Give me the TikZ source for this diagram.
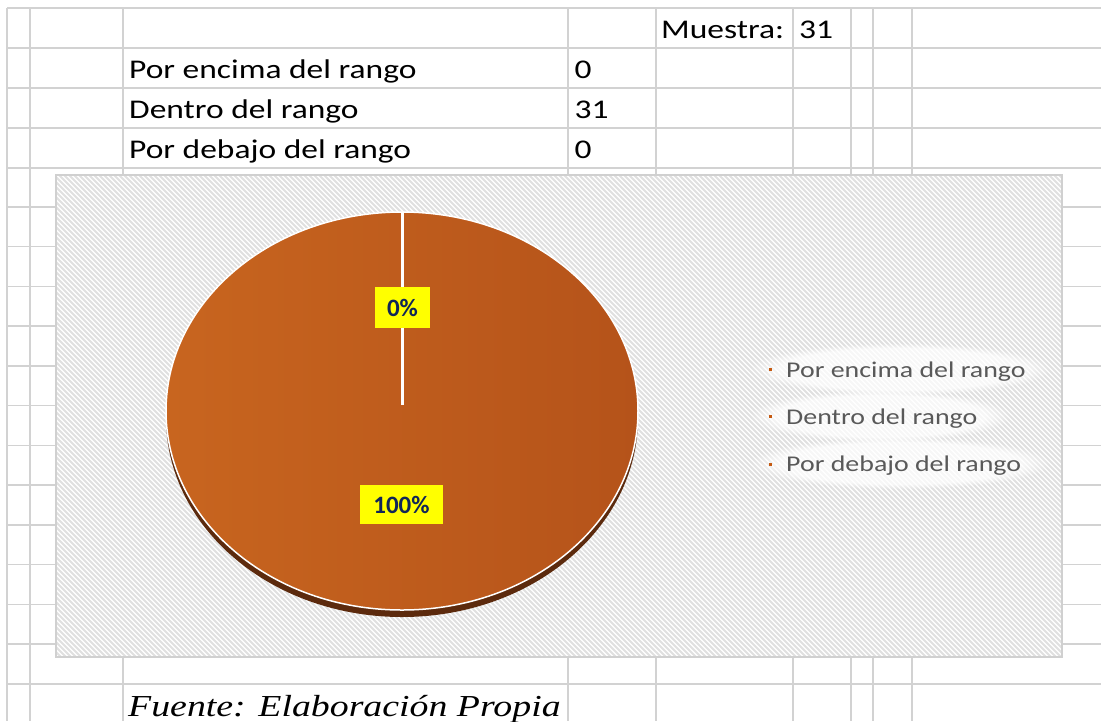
\documentclass[tikz,border=0pt]{standalone}
\usepackage{fontspec}
\setmainfont{Carlito}
\newfontfamily\tabfont{Carlito}[FakeStretch=1.24]
\newfontfamily\lblfont{Carlito}
\newfontfamily\srcfont{Liberation Serif}[FakeStretch=1.24]
\usetikzlibrary{fadings}
\definecolor{gridc}{HTML}{D2D2D2}
\definecolor{stripec}{HTML}{E0E0E0}
\definecolor{borderc}{HTML}{D0D0D0}
\definecolor{pieL}{HTML}{C8651F}
\definecolor{pieR}{HTML}{B5531A}
\definecolor{rimc}{HTML}{5C2A0D}
\definecolor{navyc}{HTML}{102558}
\definecolor{legtext}{HTML}{595959}
\definecolor{bulletc}{HTML}{C55A11}
\definecolor{yellowc}{HTML}{FFFF00}
\tikzset{
  gridline/.style={draw=gridc, line width=1.6pt},
  stripeline/.style={draw=stripec, line width=1.8pt},
  tabtext/.style={anchor=base west, inner sep=0pt, text=black, font=\tabfont\fontsize{27}{30}\selectfont},
  legtxt/.style={anchor=base west, inner sep=0pt, text=legtext, font=\tabfont\fontsize{22.5}{25}\selectfont},
  lbl/.style={fill=yellowc, text=navyc, inner sep=0pt, font=\lblfont\bfseries\fontsize{25}{25}\selectfont},
  bulletbox/.style={fill=bulletc, draw=none, minimum size=3pt, inner sep=0pt},
  glow/.style={fill=white, fill opacity=0.75, path fading=circle with fuzzy edge 20 percent}
}
\begin{document}
\begin{tikzpicture}[x=1pt,y=-1pt]
\useasboundingbox (0,0) rectangle (1101,721);
\fill[white] (0,0) rectangle (1101,721);
% ---- spreadsheet grid ----
\foreach \k in {0,...,4} \draw[gridline] (7,{8+40*\k}) -- (1101,{8+40*\k});
\foreach \k in {5,...,16} {
  \draw[gridline] (7,{8+39.76*\k}) -- (56,{8+39.76*\k});
  \draw[gridline] (1062,{8+39.76*\k}) -- (1101,{8+39.76*\k});
}
\draw[gridline] (7,684) -- (1101,684);
\foreach \x in {7,30} \draw[gridline] (\x,8) -- (\x,721);
\foreach \x in {123,568,656,793,851,873,912} {
  \draw[gridline] (\x,8) -- (\x,175);
  \draw[gridline] (\x,657) -- (\x,721);
}
% ---- table texts ----
\node[tabtext] (mlab) at (661,38.5) {Muestra:};
\node[tabtext] (mval) at (799,38.5) {31};
\node[tabtext] (r1) at (129,78) {Por encima del rango};
\node[tabtext] (r2) at (129,118) {Dentro del rango};
\node[tabtext] (r3) at (129,158) {Por debajo del rango};
\node[tabtext] (v1) at (574.5,78) {0};
\node[tabtext] (v2) at (574.5,118) {31};
\node[tabtext] (v3) at (574.5,158) {0};
% ---- chart area ----
\begin{scope}
  \clip (56,175) rectangle (1062,657);
  \fill[white] (56,175) rectangle (1062,657);
  \foreach \a in {-426,-421,...,1062} \draw[stripeline] (\a,175) -- ({\a+482},657);
  \fill[glow] (900,369) ellipse (150 and 26);
  \fill[glow] (880,416) ellipse (130 and 26);
  \fill[glow] (900,463) ellipse (150 and 26);
\end{scope}
\draw[draw=borderc, line width=1.2pt] (56,175) rectangle (1062,657);
% ---- pie ----
\fill[rimc] (402,418) ellipse (236 and 199);
\shadedraw[left color=pieL, right color=pieR, draw=white, line width=1.5pt] (402,411) ellipse (236 and 199);
\coordinate (pc) at (402,405);
\coordinate (ptop) at (402,212);
\draw[white, line width=3pt] (pc) -- (ptop);
\node[lbl, minimum width=55pt, minimum height=41pt] (l0) at (402.5,307.5) {0\%};
\node[lbl, minimum width=83pt, minimum height=39pt] (l100) at (401.5,504.5) {100\%};
% ---- legend ----
\node[bulletbox] (b1) at (770.5,369) {};
\node[bulletbox] (b2) at (770.5,416.5) {};
\node[bulletbox] (b3) at (770.5,464) {};
\node[legtxt] (e1) at (786,377) {Por encima del rango};
\node[legtxt] (e2) at (786,424) {Dentro del rango};
\node[legtxt] (e3) at (786,471) {Por debajo del rango};
% ---- source ----
\node[anchor=base west, inner sep=0pt, font=\srcfont\itshape\fontsize{30.5}{32}\selectfont] (src) at (128,716) {Fuente: Elaboración Propia};
\end{tikzpicture}
\end{document}
